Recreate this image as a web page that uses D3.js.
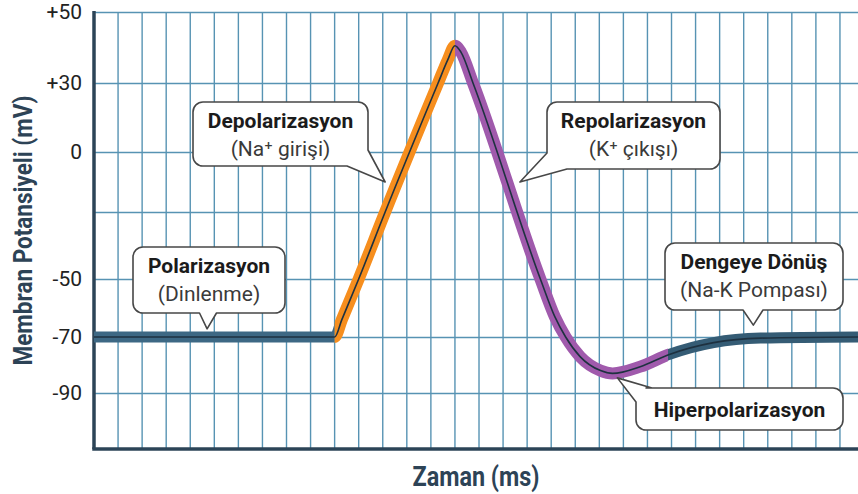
<!DOCTYPE html>
<html>
<head>
<meta charset="utf-8">
<script src="https://cdn.jsdelivr.net/npm/d3@7"></script>
<style>
  body { margin: 0; background: #fff; }
  svg { display: block; font-family: Roboto, "Noto Sans", sans-serif; }
</style>
</head>
<body>
<svg id="chart" width="858" height="494"></svg>
<script>
// y levels in mV (the original axis is schematic, not evenly spaced)
const yLevels = [50, 30, 0, -25, -50, -70, -90, -110]
const yLabels = ['+50', '+30', '0', '', '-50', '-70', '-90', '']
// time axis, in ms, a grid line every 0.2 ms
const xMax = 6.35
const xStep = 0.2

// action potential curve
const time = [0, 1, 2.0, 2.06, 2.2, 2.42, 2.86, 2.94, 3.0, 3.05, 3.15, 3.71, 3.83, 3.92, 4.04, 4.21, 4.31, 4.54, 4.77, 5.15, 5.54, 6.35]
const mV = [-70, -70, -70, -64, -50, -25, 30, 36.5, 40.5, 38.7, 30, -50, -63, -70, -77, -82, -83, -80.6, -76.4, -72, -70.4, -70]

// phases of the curve (start time of each)
const phaseStart = [0, 2.0, 3.0, 4.77]
const phaseColor = ['#3d6884', '#f68e1e', '#a05aac', '#355c75']
const phaseWidth = [11, 12, 12, 11]

// callouts
const noteTitles = ['Polarizasyon', 'Depolarizasyon', 'Repolarizasyon', 'Dengeye Dönüş', 'Hiperpolarizasyon']
const noteSubs = ['(Dinlenme)', '(Na⁺ girişi)', '(K⁺ çıkışı)', '(Na-K Pompası)', '']
const noteTipT = [0.94, 2.42, 3.54, 5.48, 4.35]
const noteTipV = [-67.2, -12.5, -12.5, -65.9, -84.6]

const width = 858
const height = 494
const margin = { top: 12, right: 0, bottom: 45, left: 94 }
// pixel rows of the grid levels (layout of the schematic axis)
const levelRows = [12, 83, 152, 212, 279, 337, 393, 449]
// box layout: x, y, w, h, tail kind, tail params
const noteBoxes = [
  { x: 133, y: 247, w: 152, h: 66, tail: 'b', c: 208, s: 8.5 },
  { x: 193, y: 102, w: 175, h: 64, tail: 'br', a: 16, b: 21 },
  { x: 547, y: 102, w: 173, h: 67, tail: 'bl', a: 16, b: 20 },
  { x: 665, y: 243, w: 178, h: 67, tail: 'b', c: 753, s: 10 },
  { x: 636, y: 388, w: 207, h: 42, tail: 'tl', a: 14, b: 16 }
]

const svg = d3.select('#chart')
const gridColor = '#5793b3'
const axisColor = '#2c4457'

const xScale = d3.scaleLinear()
  .domain([0, xMax])
  .range([margin.left, width - margin.right])
const yScale = d3.scaleLinear()
  .domain(yLevels)
  .range(levelRows)

const yTop = yScale(yLevels[0])
const yBottom = yScale(yLevels[yLevels.length - 1])

// vertical grid
const vTicks = d3.range(1, Math.floor(xMax / xStep) + 1).map(i => i * xStep)
svg.append('g').selectAll('line').data(vTicks)
  .enter().append('line')
  .attr('x1', d => xScale(d))
  .attr('x2', d => xScale(d))
  .attr('y1', yTop)
  .attr('y2', yBottom)
  .attr('stroke', gridColor)
  .attr('stroke-width', 1.4)

// horizontal grid + labels
const yAxisG = svg.append('g')
  .attr('transform', `translate(${margin.left},0)`)
  .call(d3.axisLeft(yScale)
    .tickValues(yLevels.slice(0, -1))
    .tickFormat((d, i) => yLabels[i])
    .tickSizeInner(-(width - margin.left - margin.right))
    .tickSizeOuter(0)
    .tickPadding(12))

yAxisG.select('.domain').remove()
yAxisG.selectAll('.tick line')
  .attr('stroke', gridColor)
  .attr('stroke-width', 1.5)
yAxisG.selectAll('.tick text')
  .attr('font-family', 'Roboto')
  .attr('font-size', 21)
  .attr('fill', '#222')

// axis lines
svg.append('line')
  .attr('x1', margin.left).attr('x2', margin.left)
  .attr('y1', yTop - 1).attr('y2', yBottom)
  .attr('stroke', axisColor).attr('stroke-width', 3.5)
svg.append('line')
  .attr('x1', margin.left - 1.75).attr('x2', width)
  .attr('y1', yBottom).attr('y2', yBottom)
  .attr('stroke', axisColor).attr('stroke-width', 3.5)

// curve
const points = time.map((t, i) => ({ t: t, v: mV[i] }))
const line = d3.line()
  .x(d => xScale(d.t))
  .y(d => yScale(d.v))
  .curve(d3.curveMonotoneX)

const defs = svg.append('defs')
phaseStart.forEach((s, i) => {
  const x0 = i === 0 ? 0 : xScale(s)
  const x1 = i === phaseStart.length - 1 ? width : xScale(phaseStart[i + 1])
  defs.append('clipPath').attr('id', 'phase' + i)
    .append('rect')
    .attr('x', x0)
    .attr('y', 0)
    .attr('width', x1 - x0)
    .attr('height', height)
})

const curveG = svg.append('g')
phaseStart.forEach((s, i) => {
  curveG.append('path')
    .datum(points)
    .attr('d', line)
    .attr('clip-path', `url(#phase${i})`)
    .attr('fill', 'none')
    .attr('stroke', phaseColor[i])
    .attr('stroke-width', phaseWidth[i])
    .attr('stroke-linejoin', 'round')
})
curveG.append('path')
  .datum(points)
  .attr('d', line)
  .attr('fill', 'none')
  .attr('stroke', '#1e3140')
  .attr('stroke-width', 1.6)

// callout boxes
function calloutPath(b, tip) {
  const r = 10
  const x0 = b.x, y0 = b.y, x1 = b.x + b.w, y1 = b.y + b.h
  const p = d3.path()
  p.moveTo(x0 + r, y0)
  p.lineTo(x1 - r, y0)
  p.arcTo(x1, y0, x1, y0 + r, r)
  if (b.tail === 'br') {
    p.lineTo(x1, y1 - b.a)
    p.lineTo(tip[0], tip[1])
    p.lineTo(x1 - b.b, y1)
  } else {
    p.lineTo(x1, y1 - r)
    p.arcTo(x1, y1, x1 - r, y1, r)
  }
  if (b.tail === 'b') {
    p.lineTo(b.c + b.s, y1)
    p.lineTo(tip[0], tip[1])
    p.lineTo(b.c - b.s, y1)
  }
  if (b.tail === 'bl') {
    p.lineTo(x0 + b.b, y1)
    p.lineTo(tip[0], tip[1])
    p.lineTo(x0, y1 - b.a)
  } else {
    p.lineTo(x0 + r, y1)
    p.arcTo(x0, y1, x0, y1 - r, r)
  }
  if (b.tail === 'tl') {
    p.lineTo(x0, y0 + b.a)
    p.lineTo(tip[0], tip[1])
    p.lineTo(x0 + b.b, y0)
  } else {
    p.lineTo(x0, y0 + r)
    p.arcTo(x0, y0, x0 + r, y0, r)
  }
  p.closePath()
  return p.toString()
}

const notesG = svg.append('g')
noteTitles.forEach((title, i) => {
  const b = noteBoxes[i]
  const tip = [xScale(noteTipT[i]), yScale(noteTipV[i])]
  const cx = b.x + b.w / 2
  notesG.append('path')
    .attr('d', calloutPath(b, tip))
    .attr('fill', '#fff')
    .attr('stroke', '#474747')
    .attr('stroke-width', 1.6)
    .attr('stroke-linejoin', 'round')
  if (noteSubs[i]) {
    notesG.append('text')
      .attr('x', cx).attr('y', b.y + 26)
      .attr('text-anchor', 'middle')
      .attr('font-size', 21).attr('font-weight', 700)
      .attr('fill', '#1b1b1b')
      .text(title)
    notesG.append('text')
      .attr('x', cx).attr('y', b.y + 54)
      .attr('text-anchor', 'middle')
      .attr('font-size', 21)
      .attr('fill', '#3a3a3a')
      .text(noteSubs[i])
  } else {
    notesG.append('text')
      .attr('x', cx).attr('y', b.y + b.h / 2 + 7.5)
      .attr('text-anchor', 'middle')
      .attr('font-size', 21).attr('font-weight', 700)
      .attr('fill', '#1b1b1b')
      .text(title)
  }
})

// axis titles
svg.append('text')
  .attr('transform', `translate(32,${(yTop + yBottom) / 2}) rotate(-90)`)
  .attr('text-anchor', 'middle')
  .attr('font-size', 26).attr('font-weight', 700)
  .attr('fill', '#2d4356')
  .attr('textLength', 270).attr('lengthAdjust', 'spacingAndGlyphs')
  .text('Membran Potansiyeli (mV)')

svg.append('text')
  .attr('x', (margin.left + width) / 2)
  .attr('y', 486)
  .attr('text-anchor', 'middle')
  .attr('font-size', 27).attr('font-weight', 700)
  .attr('fill', '#2d4356')
  .attr('textLength', 127).attr('lengthAdjust', 'spacingAndGlyphs')
  .text('Zaman (ms)')
</script>
</body>
</html>
